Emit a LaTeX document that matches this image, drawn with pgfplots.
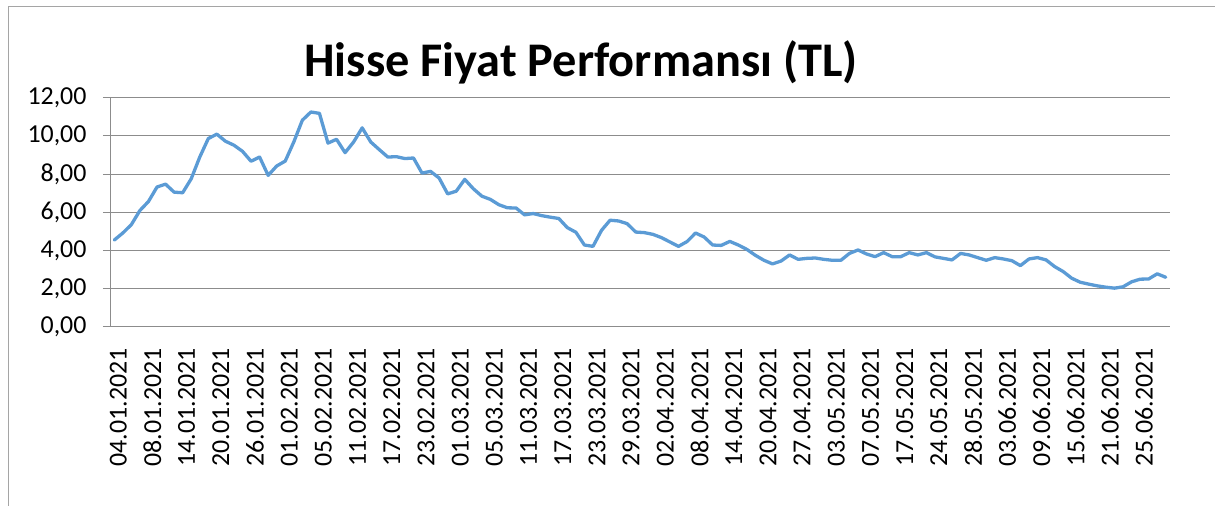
\documentclass[border=0pt]{standalone}
\usepackage{fontspec}
\setmainfont{Carlito}
\usepackage{pgfplots}
\usepackage{pgfplotstable}
\pgfplotsset{compat=1.18}
\definecolor{linec}{RGB}{91,155,213}
\definecolor{gridc}{RGB}{140,140,140}
\definecolor{framec}{RGB}{165,165,165}
\pgfplotstableread{
i v
0 4.54
1 4.91
2 5.35
3 6.09
4 6.56
5 7.32
6 7.47
7 7.05
8 7.02
9 7.75
10 8.89
11 9.86
12 10.09
13 9.72
14 9.51
15 9.19
16 8.67
17 8.89
18 7.93
19 8.42
20 8.68
21 9.68
22 10.82
23 11.25
24 11.18
25 9.62
26 9.82
27 9.12
28 9.68
29 10.42
30 9.68
31 9.28
32 8.89
33 8.91
34 8.81
35 8.84
36 8.05
37 8.14
38 7.79
39 6.96
40 7.10
41 7.72
42 7.23
43 6.84
44 6.67
45 6.39
46 6.23
47 6.22
48 5.86
49 5.93
50 5.82
51 5.74
52 5.67
53 5.19
54 4.95
55 4.28
56 4.21
57 5.05
58 5.58
59 5.54
60 5.40
61 4.96
62 4.93
63 4.84
64 4.67
65 4.44
66 4.21
67 4.46
68 4.91
69 4.70
70 4.28
71 4.26
72 4.47
73 4.28
74 4.05
75 3.74
76 3.48
77 3.29
78 3.44
79 3.76
80 3.53
81 3.58
82 3.60
83 3.53
84 3.48
85 3.48
86 3.84
87 4.02
88 3.81
89 3.67
90 3.88
91 3.67
92 3.67
93 3.88
94 3.76
95 3.88
96 3.66
97 3.58
98 3.50
99 3.84
100 3.76
101 3.62
102 3.48
103 3.62
104 3.55
105 3.46
106 3.20
107 3.55
108 3.62
109 3.50
110 3.15
111 2.89
112 2.54
113 2.33
114 2.23
115 2.14
116 2.07
117 2.02
118 2.09
119 2.35
120 2.49
121 2.50
122 2.77
123 2.59
}\pricedata
\begin{document}
\begin{tikzpicture}
\path[use as bounding box] (0bp,0bp) rectangle (1215bp,506bp);
\draw[framec, line width=1bp] (8bp,0bp) -- (8bp,499bp) -- (1215bp,499bp);
\node[font=\bfseries\fontsize{48.5}{52}\selectfont] at (581bp,444bp) {Hisse Fiyat Performansı (TL)};
\begin{axis}[
  at={(110bp,179.3bp)}, anchor=south west,
  scale only axis, width=1060bp, height=229bp,
  xmin=-0.5, xmax=123.5, ymin=0, ymax=12,
  axis lines=left,
  axis line style={-, gridc, line width=1bp},
  tick align=outside,
  major tick length=7bp, minor tick length=8bp,
  tick style={gridc, line width=1bp},
  ymajorgrids, grid style={gridc, line width=1bp},
  ytick={0,2,...,12},
  /pgf/number format/.cd, fixed, fixed zerofill, precision=2, use comma, assume math mode=true,
  /pgfplots/.cd,
  xtick={0,4,...,120},
  xtick style={draw=none},
  minor xtick={-0.5,0.5,...,123.5},
  xticklabels={04.01.2021,08.01.2021,14.01.2021,20.01.2021,26.01.2021,01.02.2021,05.02.2021,11.02.2021,17.02.2021,23.02.2021,01.03.2021,05.03.2021,11.03.2021,17.03.2021,23.03.2021,29.03.2021,02.04.2021,08.04.2021,14.04.2021,20.04.2021,27.04.2021,03.05.2021,07.05.2021,17.05.2021,24.05.2021,28.05.2021,03.06.2021,09.06.2021,15.06.2021,21.06.2021,25.06.2021},
  ticklabel style={font=\fontsize{26}{30}\selectfont, text=black},
  yticklabel style={xshift=-13bp},
  xticklabel style={yshift=-11bp, xshift=4bp, rotate=90, anchor=east},
]
\addplot[linec, line width=3.3bp, line join=round, line cap=round, mark=none] table[x=i, y=v] {\pricedata};
\end{axis}
\end{tikzpicture}
\end{document}
